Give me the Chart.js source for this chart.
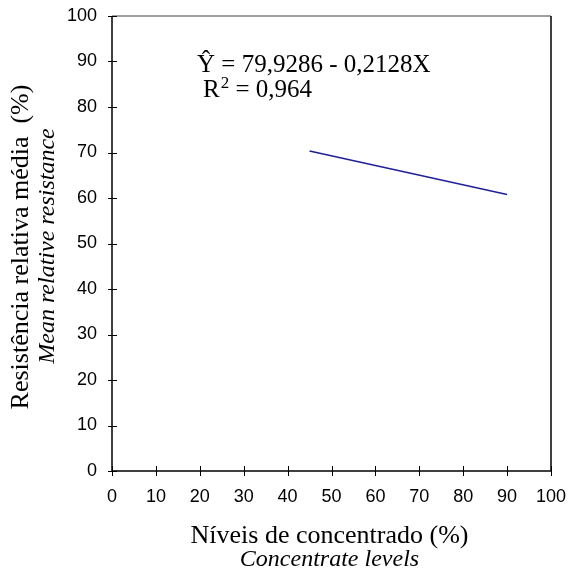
<!DOCTYPE html>
<html>
<head>
<meta charset="utf-8">
<script src="https://cdn.jsdelivr.net/npm/chart.js@4"></script>
<style>
  html, body { margin: 0; padding: 0; background: #fff; }
  #wrap { width: 569px; height: 571px; position: relative; }
</style>
</head>
<body>
<div id="wrap"><canvas id="myChart"></canvas></div>
<script>
// concentrate levels (%) and fitted mean relative resistance (%)
const levels = [45, 67.5, 90];
const resistance = [70.35, 65.56, 60.78];
const xTicks = [0, 10, 20, 30, 40, 50, 60, 70, 80, 90, 100];
const yTicks = [0, 10, 20, 30, 40, 50, 60, 70, 80, 90, 100];

const equation = "Ŷ = 79,9286 - 0,2128X";
const r2Label = "R";
const r2Value = " = 0,964";
const xTitle = "Níveis de concentrado (%)";
const xSubtitle = "Concentrate levels";
const yTitle = "Resistência relativa média  (%)";
const ySubtitle = "Mean relative resistance";

const serif = "'Liberation Serif', 'Times New Roman', serif";
const sans = "'Liberation Sans', Arial, sans-serif";

// frame, crossing tick marks and the texts
const decor = {
  id: "decor",
  afterDraw(chart) {
    const { ctx, chartArea: a, scales } = chart;
    const x = scales.x, y = scales.y;
    ctx.save();
    // top frame (grey) and right frame
    ctx.lineWidth = 1.5;
    ctx.strokeStyle = "#808080";
    ctx.beginPath();
    ctx.moveTo(a.left, a.top);
    ctx.lineTo(a.right, a.top);
    ctx.stroke();
    ctx.strokeStyle = "#000";
    ctx.beginPath();
    ctx.moveTo(a.right, a.top);
    ctx.lineTo(a.right, a.bottom);
    ctx.stroke();
    // axes
    ctx.lineWidth = 1.5;
    ctx.beginPath();
    ctx.moveTo(a.left, a.top);
    ctx.lineTo(a.left, a.bottom);
    ctx.lineTo(a.right, a.bottom);
    ctx.stroke();
    // ticks crossing the axes
    ctx.lineWidth = 1;
    ctx.beginPath();
    yTicks.forEach(v => {
      const py = Math.round(y.getPixelForValue(v)) + 0.5;
      ctx.moveTo(a.left - 4, py);
      ctx.lineTo(a.left + 5, py);
    });
    xTicks.forEach(v => {
      const px = Math.round(x.getPixelForValue(v)) + 0.5;
      ctx.moveTo(px, a.bottom - 5);
      ctx.lineTo(px, a.bottom + 5);
    });
    ctx.stroke();

    // regression equation
    ctx.fillStyle = "#000";
    ctx.textBaseline = "alphabetic";
    ctx.textAlign = "left";
    ctx.font = "25px " + serif;
    ctx.fillText(equation, 197, 72);
    ctx.fillText(r2Label, 203, 97);
    const rw = ctx.measureText(r2Label).width;
    ctx.font = "17px " + serif;
    ctx.fillText("2", 203 + rw + 1, 88);
    const sw = ctx.measureText("2").width;
    ctx.font = "25px " + serif;
    ctx.fillText(r2Value, 203 + rw + sw + 1, 97);

    // x axis titles
    const cx = (a.left + a.right) / 2;
    ctx.textAlign = "center";
    ctx.font = "26px " + serif;
    ctx.fillText(xTitle, cx - 2, 543);
    ctx.font = "italic 24px " + serif;
    ctx.fillText(xSubtitle, cx - 2, 566);

    // y axis titles
    ctx.save();
    ctx.translate(28, 247);
    ctx.rotate(-Math.PI / 2);
    ctx.font = "26px " + serif;
    ctx.fillText(yTitle, 0, 0);
    ctx.restore();
    ctx.save();
    ctx.translate(54, 246);
    ctx.rotate(-Math.PI / 2);
    ctx.font = "italic 24px " + serif;
    ctx.fillText(ySubtitle, 0, 0);
    ctx.restore();
    ctx.restore();
  }
};

const ctx = document.getElementById("myChart").getContext("2d");
new Chart(ctx, {
  type: "line",
  data: {
    datasets: [
      {
        data: levels.map((v, i) => ({ x: v, y: resistance[i] })),
        borderColor: "#1f1f9a",
        borderWidth: 1.5,
        pointRadius: 0,
        fill: false,
        tension: 0,
      },
    ],
  },
  options: {
    responsive: true,
    maintainAspectRatio: false,
    animation: false,
    layout: { padding: { top: 16, right: 18, left: 0, bottom: 0 } },
    plugins: { legend: { display: false }, tooltip: { enabled: false } },
    scales: {
      x: {
        type: "linear",
        min: 0,
        max: 100,
        afterBuildTicks: (s) => { s.ticks = xTicks.map(v => ({ value: v })); },
        afterFit: (s) => { s.height = 100; s.paddingLeft = 0; s.paddingRight = 0; },
        grid: { display: false, drawTicks: false },
        border: { display: false },
        ticks: { padding: 15, color: "#000", font: { family: sans, size: 18 }, maxRotation: 0 },
      },
      y: {
        type: "linear",
        min: 0,
        max: 100,
        afterBuildTicks: (s) => { s.ticks = yTicks.map(v => ({ value: v })); },
        afterFit: (s) => { s.width = 112; s.paddingTop = 0; s.paddingBottom = 0; },
        grid: { display: false, drawTicks: false },
        border: { display: false },
        ticks: { padding: 15, color: "#000", font: { family: sans, size: 18 } },
      },
    },
  },
  plugins: [decor],
});
</script>
</body>
</html>
